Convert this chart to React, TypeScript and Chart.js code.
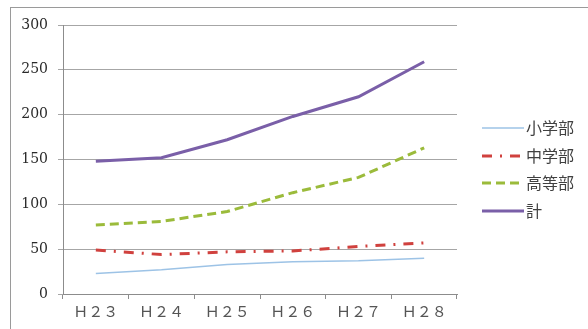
import React, { useEffect, useRef } from "react";
import { Chart, registerables } from "chart.js";

Chart.register(...registerables);

const categories = ["Ｈ２３", "Ｈ２４", "Ｈ２５", "Ｈ２６", "Ｈ２７", "Ｈ２８"];
const shogakubu = [23, 27, 33, 36, 37, 40];
const chugakubu = [49, 44, 47, 48, 53, 57];
const kotobu = [77, 81, 92, 113, 130, 163];
const total = [148, 152, 172, 198, 220, 259];
const seriesNames = ["小学部", "中学部", "高等部", "計"];
const yTicks = [0, 50, 100, 150, 200, 250, 300];

const legendPlugin = {
  id: "customLegend",
  afterDraw(chart: any) {
    const ctx = chart.ctx;
    const items = chart.data.datasets;
    const x0 = 482;
    const x1 = 524;
    const ys = [128, 156, 183, 211];
    ctx.save();
    items.forEach((ds: any, i: number) => {
      const y = ys[i];
      ctx.beginPath();
      ctx.setLineDash(ds.borderDash || []);
      ctx.strokeStyle = ds.borderColor;
      ctx.lineWidth = ds.borderWidth;
      ctx.moveTo(x0, y);
      ctx.lineTo(x1, y);
      ctx.stroke();
      ctx.setLineDash([]);
      ctx.fillStyle = "#404040";
      ctx.font = "16px 'Noto Sans CJK JP'";
      ctx.textBaseline = "middle";
      ctx.textAlign = "left";
      ctx.fillText(ds.label, x1 + 2, y);
    });
    ctx.restore();
  },
};

export default function App() {
  const ref = useRef<HTMLCanvasElement>(null);
  useEffect(() => {
    if (!ref.current) return;
    const chart = new Chart(ref.current, {
      type: "line",
      data: {
        labels: categories,
        datasets: [
          {
            label: seriesNames[0],
            data: shogakubu,
            borderColor: "#9DC3E6",
            borderWidth: 1.5,
            pointRadius: 0,
            tension: 0,
          },
          {
            label: seriesNames[1],
            data: chugakubu,
            borderColor: "#D0413E",
            borderWidth: 3,
            borderDash: [10, 8, 2, 8],
            pointRadius: 0,
            tension: 0,
          },
          {
            label: seriesNames[2],
            data: kotobu,
            borderColor: "#9BBB3B",
            borderWidth: 3,
            borderDash: [9, 5],
            pointRadius: 0,
            tension: 0,
          },
          {
            label: seriesNames[3],
            data: total,
            borderColor: "#7A5FA8",
            borderWidth: 3,
            pointRadius: 0,
            tension: 0,
          },
        ],
      },
      options: {
        animation: false,
        responsive: false,
        maintainAspectRatio: false,
        layout: { padding: { left: 0, top: 25, right: 131, bottom: 0 } },
        plugins: {
          legend: { display: false },
          tooltip: { enabled: false },
        },
        scales: {
          x: {
            type: "category",
            offset: true,
            grid: {
              offset: true,
              drawOnChartArea: false,
              drawTicks: true,
              tickLength: 5,
              color: "#8c8c8c",
            },
            border: { display: true, color: "#8c8c8c" },
            ticks: {
              color: "#555",
              font: { family: "'Noto Sans CJK JP'", size: 15 },
              padding: 3,
              maxRotation: 0,
            },
            afterFit(scale: any) {
              scale.height = 35;
            },
          },
          y: {
            min: 0,
            max: 300,
            afterBuildTicks(scale: any) {
              scale.ticks = yTicks.map((v) => ({ value: v }));
            },
            grid: {
              color: "#a6a6a6",
              drawTicks: true,
              tickLength: 5,
            },
            border: { display: true, color: "#8c8c8c" },
            ticks: {
              color: "#2a2a2a",
              font: { family: "'DejaVu Serif'", size: 14 },
              padding: 10,
            },
            afterFit(scale: any) {
              scale.width = 63;
            },
          },
        },
      },
      plugins: [legendPlugin],
    });
    return () => chart.destroy();
  }, []);
  return (
    <div style={{ position: "fixed", left: 0, top: 0, width: 588, height: 329, background: "#fff" }}>
      <div
        style={{
          position: "absolute",
          left: 10,
          top: 7,
          width: 590,
          height: 340,
          border: "1px solid #9a9a9a",
          boxSizing: "border-box",
        }}
      />
      <canvas ref={ref} width={588} height={329} style={{ position: "absolute", left: 0, top: 0 }} />
    </div>
  );
}
